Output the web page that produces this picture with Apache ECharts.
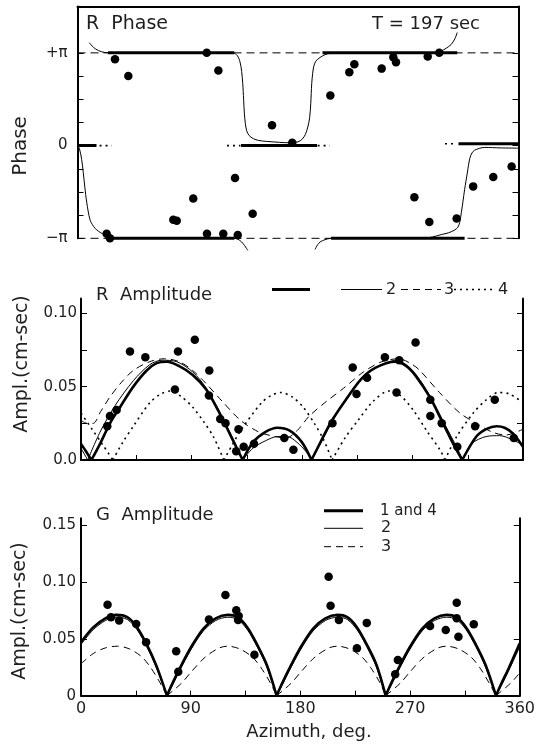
<!DOCTYPE html>
<html>
<head>
<meta charset="utf-8">
<script src="https://cdn.jsdelivr.net/npm/echarts@6/dist/echarts.min.js"></script>
<style>
  html, body { margin: 0; background: #fff; }
  #chart { width: 538px; height: 744px; }
</style>
</head>
<body>
<div id="chart"></div>
<script>
// axis ticks / labels
const azTicks = [0, 45, 90, 135, 180, 225, 270, 315, 360];
const azLabels = [0, 90, 180, 270, 360];
const phaseTicks = [-1, -0.75, -0.5, -0.25, 0, 0.25, 0.5, 0.75, 1];
const phaseLabels = [-1, 0, 1];
const rAmpTicks = [0, 0.025, 0.05, 0.075, 0.1];
const rAmpLabels = [0, 0.05, 0.1];
const gAmpTicks = [0, 0.05, 0.1, 0.15];
const gAmpLabels = [0, 0.05, 0.1, 0.15];

// observed points [azimuth deg, value]; phase in units of pi
const phasePoints = [
  [30.6, 0.93], [41.5, 0.75], [105.5, 1.0], [115, 0.81], [158.8, 0.22], [175.3, 0.03],
  [23.8, -0.95], [26.5, -1.0], [78.2, -0.8], [81, -0.81], [94.5, -0.57], [105.7, -0.95],
  [119, -0.95], [128.6, -0.35], [130.8, -0.965], [143, -0.735],
  [206.4, 0.54], [221.9, 0.79], [226, 0.876], [248.3, 0.83], [257.8, 0.954], [260, 0.9],
  [275, -0.557], [285.9, 0.96], [287.2, -0.825], [295.3, 1.0], [309.5, -0.786],
  [323, -0.44], [339.4, -0.34], [354.4, -0.225]
];
const rAmpPoints = [
  [21.4, 0.023], [23.6, 0.03], [29, 0.034], [39.9, 0.074], [52.4, 0.07], [76.5, 0.048],
  [79, 0.074], [92.7, 0.082], [104.5, 0.061], [104.2, 0.044], [113.4, 0.028], [117.7, 0.025],
  [128.3, 0.021], [126.4, 0.006], [132.5, 0.009], [140.9, 0.011], [165.6, 0.015], [173, 0.007],
  [204.8, 0.025], [221.3, 0.063], [224.4, 0.045], [233, 0.056], [247.5, 0.07], [259.2, 0.068],
  [257, 0.046], [272.5, 0.08], [284.5, 0.041], [284.5, 0.03], [293.8, 0.025], [306.5, 0.009],
  [321, 0.023], [337, 0.041], [352.5, 0.015]
];
const gAmpPoints = [
  [21.8, 0.08], [24.6, 0.069], [31.3, 0.066], [45.3, 0.063], [53.4, 0.047], [78.1, 0.039],
  [79.8, 0.021], [105, 0.067], [118.5, 0.0885], [127.4, 0.075], [129.4, 0.07], [128.9, 0.0665],
  [142.3, 0.036], [203.2, 0.1046], [204.8, 0.079], [211.6, 0.0665], [226.4, 0.0416], [234.5, 0.064],
  [257.8, 0.0188], [260, 0.0314], [286.4, 0.0612], [299.3, 0.0577], [308.3, 0.0817], [308.3, 0.068],
  [309.7, 0.0519], [322.3, 0.0627]
];

// model curves, one array per drawn piece
const phaseModel1 = [
  [[0, 0], [15.5, 0]], [[25, 1], [128, 1]], [[25, -1], [128, -1]], [[133.5, 0], [195.5, 0]],
  [[200, 1], [310, 1]], [[207, -1], [316, -1]], [[311, 0.02], [360, 0.02]]
];
const phaseModel2 = [
  [[0, 0], [1.5, -0.03], [3.4, -0.15], [4.7, -0.29], [6, -0.45], [7.5, -0.61], [10.2, -0.8], [13, -0.87],
   [15.7, -0.91], [19, -0.94], [22.4, -0.965], [27, -0.99], [32, -1], [127, -1], [131, -1.01],
   [134, -1.04], [136.5, -1.08], [139, -1.13]],
  [[9.6, 1.11], [13, 1.06], [17, 1.025], [22, 1.005], [28, 1], [127, 1], [130.5, 0.97], [132.7, 0.9],
   [134, 0.8], [134.9, 0.67], [135.6, 0.5], [136.2, 0.35], [137, 0.24], [138.1, 0.16], [140, 0.11],
   [143.5, 0.075], [148, 0.055], [154.4, 0.045], [165, 0.035], [173.5, 0.03], [180, 0.04], [183.5, 0.07],
   [186, 0.12], [188, 0.2], [189.5, 0.3], [190.4, 0.45], [191.2, 0.67], [192, 0.78], [192.8, 0.85],
   [194.5, 0.91], [198, 0.95], [202, 0.98], [206, 0.995], [216, 1], [293, 1], [297, 1.02], [301, 1.05],
   [305, 1.09], [308, 1.15], [310, 1.22]],
  [[193.9, -1.12], [196, -1.07], [198, -1.04], [202, -1.015], [207, -1], [282, -1], [290, -0.985],
   [297, -0.96], [303, -0.94], [308, -0.91], [310.5, -0.88], [312, -0.83], [313.3, -0.725],
   [314.7, -0.6], [316, -0.475], [318.2, -0.296], [320.2, -0.14], [322, -0.08], [324.2, -0.05],
   [328, -0.03], [332.4, -0.02], [345, -0.025], [360, -0.028]]
];
const phaseModel3 = [[[0, 1], [360, 1]], [[0, -1], [360, -1]]];
const phaseModel4 = [[[18, 0], [28, 0]], [[122, 0], [133, 0]], [[196, 0], [206, 0]], [[300, 0.02], [309, 0.02]]];

const rModel1 = [
  [[0, 0.011], [4, 0.006], [8.5, 0]],
  [[8.5, 0], [15.5, 0.011], [23.6, 0.025], [31.8, 0.036], [42.6, 0.05], [53.5, 0.061], [61.6, 0.066],
   [70, 0.067], [80, 0.064], [91, 0.058], [102, 0.048], [113.4, 0.031], [124.6, 0.012], [131.7, 0]],
  [[131.7, 0], [140, 0.012], [150, 0.019], [160, 0.022], [170, 0.02], [180, 0.012], [187.7, 0]],
  [[187.7, 0], [195, 0.012], [203, 0.025], [214, 0.039], [228, 0.055], [240, 0.063], [256, 0.067],
   [265, 0.064], [272, 0.058], [284, 0.043], [293.7, 0.027], [303.2, 0.011], [310.5, 0]],
  [[310.5, 0], [322, 0.016], [330, 0.021], [338.5, 0.023], [345, 0.022], [352, 0.018], [360, 0.009]]
];
const rModel2 = [
  [[0, 0.008], [5.5, 0]],
  [[5.5, 0], [15.5, 0.019], [27.7, 0.037], [42.6, 0.054], [56, 0.065], [66, 0.068], [78, 0.067],
   [91, 0.06], [102, 0.049], [113.4, 0.032], [124.6, 0.013], [131.5, 0]],
  [[131.5, 0], [140, 0.008], [150, 0.013], [160, 0.016], [168, 0.016], [176, 0.012], [183, 0.006], [188, 0]],
  [[188, 0], [198, 0.016], [210, 0.034], [225, 0.052], [240, 0.063], [257, 0.068], [270, 0.061],
   [284, 0.044], [294, 0.028], [304, 0.012], [311, 0]],
  [[311, 0], [318, 0.011], [330, 0.016], [341, 0.0166], [352, 0.0136], [360, 0.01]]
];
const rModel3 = [
  [[0, 0.027], [5, 0.025], [10, 0.025], [16, 0.033], [23.6, 0.043], [33, 0.053], [42.6, 0.061],
   [56, 0.067], [68, 0.069], [80, 0.067], [91, 0.061], [102, 0.052], [115, 0.04], [130, 0.027],
   [145, 0.019], [158, 0.016], [167, 0.015], [176, 0.02], [186, 0.03], [200, 0.04], [214, 0.049],
   [230, 0.06], [245, 0.067], [259, 0.069], [270, 0.065], [276, 0.061], [292, 0.046], [308.6, 0.032],
   [322, 0.025], [335, 0.019], [346, 0.017], [360, 0.021]]
];
const rModel4 = [
  [[0, 0.032], [9, 0.021], [18, 0.01], [26, 0]],
  [[26, 0], [34, 0.012], [42.6, 0.023], [56, 0.039], [65, 0.045], [73, 0.047], [82, 0.043], [91, 0.036],
   [100, 0.026], [107.8, 0.016], [116.3, 0]],
  [[116.3, 0], [123, 0.01], [130, 0.02], [147, 0.039], [155, 0.044], [162.5, 0.046], [172, 0.043],
   [181, 0.036], [190, 0.025], [197.5, 0.014], [204.5, 0]],
  [[204.5, 0], [215, 0.015], [225.6, 0.027], [238, 0.04], [250.5, 0.047], [260, 0.044], [270.6, 0.034],
   [281.5, 0.02], [292.3, 0.007], [296.4, 0]],
  [[296.4, 0], [306, 0.016], [319.5, 0.032], [330, 0.041], [340, 0.046], [349, 0.045], [360, 0.039]]
];

const gModel1 = [
  [[0, 0.047], [10, 0.06], [20, 0.068], [29, 0.071], [38, 0.069], [46, 0.06], [54, 0.045], [62, 0.026], [70.5, 0]],
  [[70.5, 0], [75.5, 0.012], [80.5, 0.023], [90.5, 0.043], [100.5, 0.059], [110.5, 0.068], [120.5, 0.071],
   [128.5, 0.069], [136.5, 0.06], [144.5, 0.045], [152.5, 0.027], [160.5, 0]],
  [[160.5, 0], [165.5, 0.012], [170.5, 0.023], [180.5, 0.043], [190.5, 0.059], [200.5, 0.068], [210.5, 0.071],
   [218.5, 0.069], [226.5, 0.06], [234.5, 0.045], [242.5, 0.027], [250, 0]],
  [[250, 0], [255, 0.012], [260, 0.023], [270, 0.043], [280, 0.059], [290, 0.068], [300, 0.071],
   [308, 0.069], [316, 0.06], [324, 0.045], [332, 0.027], [340.5, 0]],
  [[340.5, 0], [345.5, 0.012], [350.5, 0.023], [360, 0.046]]
];
const gModel2 = [
  [[0, 0.045], [10, 0.058], [20, 0.066], [29, 0.069], [38, 0.067], [46, 0.058], [54, 0.043], [62, 0.024], [70.5, 0]],
  [[70.5, 0], [75.5, 0.01], [80.5, 0.021], [90.5, 0.041], [100.5, 0.057], [110.5, 0.066], [120.5, 0.069],
   [128.5, 0.067], [136.5, 0.058], [144.5, 0.043], [152.5, 0.025], [160.5, 0]],
  [[160.5, 0], [165.5, 0.01], [170.5, 0.021], [180.5, 0.041], [190.5, 0.057], [200.5, 0.066], [210.5, 0.069],
   [218.5, 0.067], [226.5, 0.058], [234.5, 0.043], [242.5, 0.025], [250, 0]],
  [[250, 0], [255, 0.01], [260, 0.021], [270, 0.041], [280, 0.057], [290, 0.066], [300, 0.069],
   [308, 0.067], [316, 0.058], [324, 0.043], [332, 0.025], [340.5, 0]],
  [[340.5, 0], [345.5, 0.01], [350.5, 0.021], [360, 0.043]]
];
const gModel3 = [
  [[0, 0.028], [10, 0.037], [20, 0.042], [30, 0.0435], [40, 0.041], [50, 0.034], [57, 0.025], [64, 0.013], [70.5, 0]],
  [[70.5, 0], [82.5, 0.011], [90.5, 0.021], [102, 0.034], [113.5, 0.042], [120.5, 0.0435], [130.5, 0.041],
   [140.5, 0.034], [147.5, 0.025], [155.5, 0.011], [160.5, 0]],
  [[160.5, 0], [172.5, 0.011], [180.5, 0.021], [192, 0.034], [203.5, 0.042], [210.5, 0.0435], [220.5, 0.041],
   [230.5, 0.034], [237.5, 0.025], [245.5, 0.011], [250, 0]],
  [[250, 0], [262, 0.011], [270, 0.021], [281.5, 0.034], [293, 0.042], [300, 0.0435], [310, 0.041],
   [320, 0.034], [327, 0.025], [335, 0.011], [340.5, 0]],
  [[340.5, 0], [352.5, 0.011], [360, 0.02]]
];

const INK = '#000';
const TEXT = '#1e1e1e';
const FONT = "'DejaVu Sans'";

function pieces(list) {
  const out = [];
  list.forEach((p, i) => {
    if (i) out.push(['-', '-']);
    p.forEach(pt => out.push(pt));
  });
  return out;
}

function curve(grid, list, width, type, smooth) {
  return {
    type: 'line', xAxisIndex: grid, yAxisIndex: grid * 2, data: pieces(list),
    symbol: 'none', smooth: smooth, clip: false, silent: true,
    lineStyle: { color: INK, width: width, type: type }
  };
}

function dots(grid, data) {
  return {
    type: 'scatter', xAxisIndex: grid, yAxisIndex: grid * 2, data: data,
    symbolSize: 8.5, itemStyle: { color: '#000', opacity: 1 }, silent: true, z: 5
  };
}

function xAx(grid, pos, labels) {
  return {
    type: 'value', gridIndex: grid, min: 0, max: 360, position: pos,
    axisLine: { show: true, onZero: false, lineStyle: { color: INK, width: 2 } },
    axisTick: grid === 0 ? { show: false } : { show: true, inside: true, length: 5, customValues: azTicks, lineStyle: { color: INK } },
    axisLabel: labels ? { show: true, customValues: azLabels, margin: 5, fontSize: 16, fontFamily: FONT, color: TEXT } : { show: false },
    splitLine: { show: false }
  };
}

function yAx(grid, pos, min, max, ticks, labels, fmt, margin) {
  return {
    type: 'value', gridIndex: grid, min: min, max: max, position: pos,
    axisLine: { show: true, onZero: false, lineStyle: { color: INK, width: 2 } },
    axisTick: { show: true, inside: true, length: 6, customValues: ticks, lineStyle: { color: INK } },
    axisLabel: labels ? { show: true, customValues: labels, formatter: fmt, margin: margin, fontSize: 15, fontFamily: FONT, color: TEXT } : { show: false },
    splitLine: { show: false }
  };
}

function txt(x, y, s, size, align, rot) {
  return {
    type: 'text', x: x, y: y, rotation: rot || 0, silent: true,
    style: { text: s, font: size + 'px ' + FONT, fill: TEXT, align: align, textAlign: align, verticalAlign: 'middle', textVerticalAlign: 'middle' }
  };
}
function seg(x1, x2, y, w, dash) {
  return { type: 'line', silent: true, shape: { x1: x1, y1: y, x2: x2, y2: y }, style: { stroke: INK, lineWidth: w, lineDash: dash || null } };
}

const chart = echarts.init(document.getElementById('chart'));
chart.setOption({
  animation: false,
  grid: [
    { left: 77.5, right: 19.5, top: 6.5, height: 231.8 },
    { left: 81, right: 15, top: 298.6, height: 161.4 },
    { left: 81, right: 15, top: 518.2, height: 177.5 }
  ],
  xAxis: [xAx(0, 'top', false), xAx(1, 'bottom', false), xAx(2, 'bottom', true)],
  yAxis: [
    yAx(0, 'left', -1, 1.5, phaseTicks, phaseLabels, v => (v === 1 ? '+π' : v === -1 ? '−π' : '0'), 10),
    yAx(0, 'right', -1, 1.5, phaseTicks, null),
    yAx(1, 'left', 0, 0.11, rAmpTicks, rAmpLabels, v => (v === 0 ? '0.0' : v.toFixed(2)), 4),
    yAx(1, 'right', 0, 0.11, rAmpTicks, null),
    yAx(2, 'left', 0, 0.156, gAmpTicks, gAmpLabels, v => (v === 0 ? '0' : v.toFixed(2)), 5),
    yAx(2, 'right', 0, 0.156, gAmpTicks, null)
  ],
  series: [
    curve(0, phaseModel3, 1, [8, 5], false),
    curve(0, phaseModel4, 1.6, [2, 4], false),
    curve(0, phaseModel2, 1, 'solid', 0.3),
    curve(0, phaseModel1, 3, 'solid', false),
    dots(0, phasePoints),
    curve(1, rModel4, 1.6, [2, 4], 0.3),
    curve(1, rModel3, 1, [7, 5], 0.3),
    curve(1, rModel2, 1, 'solid', 0.3),
    curve(1, rModel1, 2.6, 'solid', 0.3),
    dots(1, rAmpPoints),
    curve(2, gModel3, 1, [7, 5], 0.3),
    curve(2, gModel2, 1, 'solid', 0.3),
    curve(2, gModel1, 2.6, 'solid', 0.3),
    dots(2, gAmpPoints)
  ],
  graphic: [
    txt(86, 24, 'R  Phase', 19, 'left'),
    txt(480, 24, 'T = 197 sec', 18, 'right'),
    txt(21, 146, 'Phase', 20, 'center', Math.PI / 2),
    txt(96, 295, 'R  Amplitude', 18, 'left'),
    seg(272, 310, 289.5, 3),
    seg(341, 382, 289.5, 1), txt(386, 289.5, '2', 16, 'left'),
    seg(401, 441, 289.5, 1, [7, 5]), txt(444, 289.5, '3', 16, 'left'),
    seg(454, 492, 289.5, 1.6, [2, 4]), txt(498, 289.5, '4', 16, 'left'),
    txt(22, 364, 'Ampl.(cm-sec)', 19, 'center', Math.PI / 2),
    txt(96, 515, 'G  Amplitude', 18, 'left'),
    seg(324, 363, 510.7, 3), txt(380, 510.7, '1 and 4', 15, 'left'),
    seg(324, 363, 528.3, 1), txt(381, 528.3, '2', 16, 'left'),
    seg(324, 363, 546.7, 1, [7, 5]), txt(381, 546.7, '3', 16, 'left'),
    txt(20, 611, 'Ampl.(cm-sec)', 19, 'center', Math.PI / 2),
    txt(309, 732, 'Azimuth, deg.', 18, 'center')
  ]
});
</script>
</body>
</html>
